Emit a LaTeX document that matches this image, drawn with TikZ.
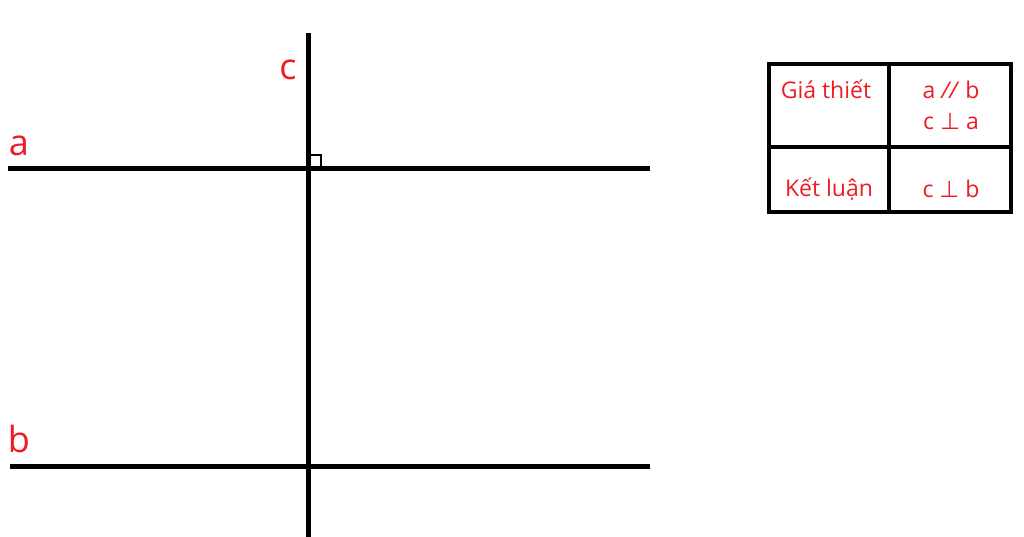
\documentclass[tikz,border=0pt]{standalone}
\usepackage{fontspec}
\setmainfont{Open Sans}
\newfontfamily\symfont{DejaVu Sans}
\usetikzlibrary{calc}
\definecolor{labelred}{RGB}{237,28,36}
\tikzset{
  thickline/.style={line width=5pt},
  tableline/.style={line width=4pt},
  linelabel/.style={text=labelred, font=\fontsize{36}{36}\selectfont, inner sep=0pt},
  celltext/.style={text=labelred, font=\fontsize{23}{27}\selectfont, inner sep=0pt, align=center}
}

\begin{document}
\begin{tikzpicture}[x=1pt,y=-1pt]
\useasboundingbox (0,0) rectangle (1024,537);

%GERADE a (oben)
\draw [thickline] (8,169) -- (650,169);
\node [linelabel] (la) at (19,146) {a};

%GERADE b (unten)
\draw [thickline] (10,466) -- (650,466);
\node [linelabel] (lb) at (19,439) {b};

%GERADE c (senkrecht)
\draw [thickline] (308,33) -- (308,537);
\node [linelabel] (lc) at (288,70) {c};

%RECHTER WINKEL
\draw [line width=2pt] (309,155) -- (321,155) -- (321,167);

%TABELLE
\draw [tableline] (769,64) rectangle (1011,212);
\draw [tableline] (889,64) -- (889,212);
\draw [tableline] (769,147) -- (1011,147);

\node [celltext] (gt) at (826,89) {Giá thiết};
\node [celltext] (gt1) at (951,90) {a \textit{//} b};
\node [celltext] (gt2) at (951,122) {c {\symfont ⊥} a};
\node [celltext] (kl) at (829,189) {Kết luận};
\node [celltext] (kl1) at (951,189) {c {\symfont ⊥} b};

\end{tikzpicture}
\end{document}
